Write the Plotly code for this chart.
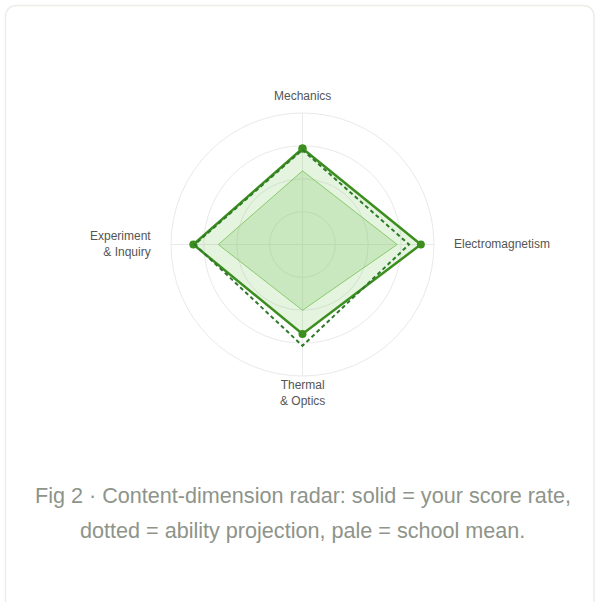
import plotly.graph_objects as go

categories = ["Mechanics", "Electromagnetism", "Thermal<br>& Optics", "Experiment<br>& Inquiry"]
score_rate = [73, 90, 68, 83]
ability_projection = [72, 81, 77, 82]
school_mean = [56, 72, 50, 64]

def closed(v):
    return v + v[:1]

cats = closed(categories)

fig = go.Figure()
fig.add_trace(go.Scatterpolar(
    r=closed(school_mean), theta=cats, mode="lines", fill="toself",
    fillcolor="rgba(110,190,80,0.22)",
    line=dict(color="rgba(130,200,100,0.9)", width=1),
    hoverinfo="skip", showlegend=False))
fig.add_trace(go.Scatterpolar(
    r=closed(score_rate), theta=cats, mode="lines+markers", fill="toself",
    fillcolor="rgba(120,200,90,0.2)",
    line=dict(color="#3c8e1f", width=2.5),
    marker=dict(size=8, color="#3c8e1f"),
    showlegend=False))
fig.add_trace(go.Scatterpolar(
    r=closed(ability_projection), theta=cats, mode="lines",
    line=dict(color="#2f7a2a", width=2, dash="4px,3px"),
    showlegend=False))

W, H = 595, 602
cx, cy, R = 302.5, 244.5, 131.5

def px(x):
    return x / W

def py(y):
    return 1 - y / H

label_font = dict(size=12, color="#555555")
labels = [
    dict(text=categories[0], x=px(cx), y=py(96), xanchor="center", yanchor="middle", align="center"),
    dict(text=categories[1], x=px(452), y=py(244), xanchor="left", yanchor="middle", align="left"),
    dict(text=categories[2], x=px(cx), y=py(393), xanchor="center", yanchor="middle", align="center"),
    dict(text=categories[3], x=px(153), y=py(244), xanchor="right", yanchor="middle", align="right"),
]
annotations = [dict(xref="paper", yref="paper", showarrow=False, font=label_font, **d) for d in labels]
cap_font = dict(size=21.6, color="#8e948a")
annotations += [
    dict(text="Fig 2 · Content-dimension radar: solid = your score rate,", x=px(302.5), y=py(495),
         xref="paper", yref="paper", showarrow=False, xanchor="center", yanchor="middle", font=cap_font),
    dict(text="dotted = ability projection, pale = school mean.", x=px(302), y=py(530),
         xref="paper", yref="paper", showarrow=False, xanchor="center", yanchor="middle", font=cap_font),
]

# rounded card outline (pixel-space path converted to paper coords)
x0, x1, y0, y1, rr = 5.5, 594, 5.5, 620, 12
def P(x, y):
    return f"{px(x):.5f},{py(y):.5f}"
card_path = (f"M {P(x0 + rr, y0)} L {P(x1 - rr, y0)} Q {P(x1, y0)} {P(x1, y0 + rr)} "
             f"L {P(x1, y1)} M {P(x0, y1)} L {P(x0, y0 + rr)} Q {P(x0, y0)} {P(x0 + rr, y0)}")

fig.update_layout(
    width=W, height=H,
    margin=dict(l=0, r=0, t=0, b=0),
    paper_bgcolor="white", plot_bgcolor="white",
    font=dict(family="Liberation Sans, Arial, sans-serif"),
    polar=dict(
        domain=dict(x=[px(cx - R), px(cx + R)], y=[py(cy + R), py(cy - R)]),
        bgcolor="white",
        radialaxis=dict(range=[0, 100], tickvals=[25, 50, 75, 100], showticklabels=False,
                        ticks="", showline=False, gridcolor="#e9e9e9", gridwidth=1),
        angularaxis=dict(direction="clockwise", rotation=90, gridcolor="#e9e9e9",
                         linecolor="#e9e9e9", ticks="", showticklabels=False),
    ),
    shapes=[dict(type="path", xref="paper", yref="paper", path=card_path,
                 line=dict(color="#ecece8", width=1.5), layer="below")],
    annotations=annotations,
)
fig.write_html("out.html", config={"displayModeBar": False},
               post_script="document.body.style.margin='0';")
